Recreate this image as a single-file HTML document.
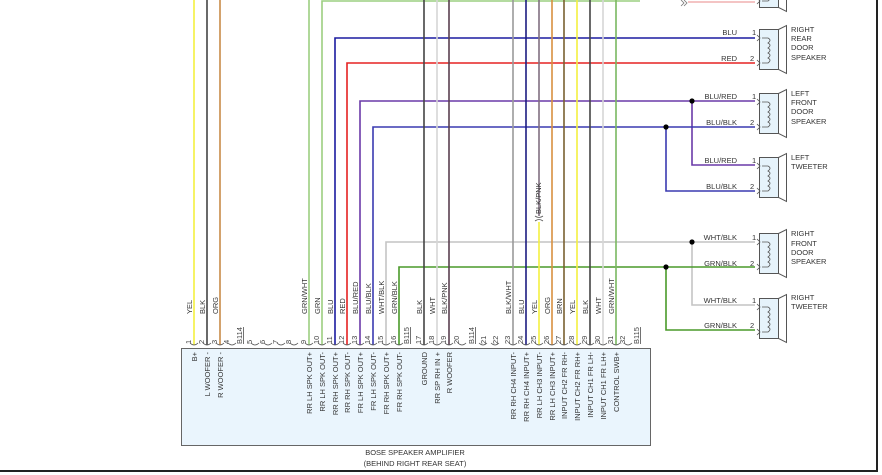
<!DOCTYPE html>
<html><head><meta charset="utf-8"><style>
html,body{margin:0;padding:0;background:#fff;}
svg{display:block;font-family:"Liberation Sans",sans-serif;}
</style></head><body>
<svg width="882" height="475" viewBox="0 0 882 475" xmlns="http://www.w3.org/2000/svg">
<rect width="882" height="475" fill="#fff"/>
<line x1="877" y1="0" x2="877" y2="471" stroke="#222" stroke-width="2"/>
<line x1="0" y1="471" x2="878" y2="471" stroke="#222" stroke-width="2"/>

<g fill="none" stroke-width="1.6">
<polyline points="322,345 322,1 640,1" stroke="#9ccf80"/>
<polyline points="335,345 335,38 755,38" stroke="#1c1ca0"/>
<polyline points="347,345 347,63 755,63" stroke="#e52222"/>
<polyline points="360,345 360,101 755,101" stroke="#6a3aa8"/>
<polyline points="692,101 692,165 755,165" stroke="#6a3aa8"/>
<polyline points="373,345 373,127 755,127" stroke="#3a3ab0"/>
<polyline points="666,127 666,191 755,191" stroke="#3a3ab0"/>
<polyline points="386,345 386,242 755,242" stroke="#c4c4c4"/>
<polyline points="692,242 692,305 755,305" stroke="#c4c4c4"/>
<polyline points="399,345 399,267 755,267" stroke="#4a9a2a"/>
<polyline points="666,267 666,330 755,330" stroke="#4a9a2a"/>
<polyline points="688,2 755,2" stroke="#f0b0b0"/>
</g>
<path d="M681,0 l3,3 l-3,3 M684,0 l3,3 l-3,3" fill="none" stroke="#777" stroke-width="0.8"/>
<g fill="#000">
<circle cx="692" cy="101" r="2.6"/><circle cx="666" cy="127" r="2.6"/>
<circle cx="692" cy="242" r="2.6"/><circle cx="666" cy="267" r="2.6"/>
</g>

<g fill="none" stroke-width="1.6">
<line x1="194" y1="0" x2="194" y2="345" stroke="#f4f040"/>
<line x1="207" y1="0" x2="207" y2="345" stroke="#444"/>
<line x1="220" y1="0" x2="220" y2="345" stroke="#c88a48"/>
<line x1="309" y1="0" x2="309" y2="345" stroke="#9ccf80"/>
<line x1="424" y1="0" x2="424" y2="345" stroke="#444"/>
<line x1="437" y1="0" x2="437" y2="345" stroke="#d6d6d6"/>
<line x1="449" y1="0" x2="449" y2="345" stroke="#5a4050"/>
<line x1="513" y1="0" x2="513" y2="345" stroke="#999"/>
<line x1="526" y1="0" x2="526" y2="345" stroke="#1c1c80"/>
<line x1="539" y1="0" x2="539" y2="216" stroke="#807080"/>
<line x1="539" y1="222" x2="539" y2="345" stroke="#f4f040"/>
<line x1="552" y1="0" x2="552" y2="345" stroke="#d89040"/>
<line x1="564" y1="0" x2="564" y2="345" stroke="#7a6030"/>
<line x1="577" y1="0" x2="577" y2="345" stroke="#f4f040"/>
<line x1="590" y1="0" x2="590" y2="345" stroke="#444"/>
<line x1="603" y1="0" x2="603" y2="345" stroke="#d6d6d6"/>
<line x1="616" y1="0" x2="616" y2="345" stroke="#7ab860"/>
</g>
<path d="M535,216 q4,3 8,0 M535,221 q4,-3 8,0" fill="none" stroke="#555" stroke-width="0.8"/>
<text transform="translate(541,214) rotate(-90)" font-size="7.5" fill="#333">BLK/PNK</text>

<rect x="181.5" y="348.5" width="469" height="97" fill="#eaf5fd" stroke="#666" stroke-width="1"/>
<text x="415" y="455" font-size="7.5" fill="#333" text-anchor="middle">BOSE SPEAKER AMPLIFIER</text>
<text x="415" y="466" font-size="7.5" fill="#333" text-anchor="middle">(BEHIND RIGHT REAR SEAT)</text>

<g fill="none" stroke="#555" stroke-width="0.8">
<path d="M190,343 q4,4 8,0 M203,343 q4,4 8,0 M216,343 q4,4 8,0 M228,343 q4,4 8,0 M251,343 q4,4 8,0 M264,343 q4,4 8,0 M277,343 q4,4 8,0 M290,343 q4,4 8,0 M305,343 q4,4 8,0 M318,343 q4,4 8,0 M331,343 q4,4 8,0 M343,343 q4,4 8,0 M356,343 q4,4 8,0 M369,343 q4,4 8,0 M382,343 q4,4 8,0 M395,343 q4,4 8,0 M420,343 q4,4 8,0 M433,343 q4,4 8,0 M445,343 q4,4 8,0 M458,343 q4,4 8,0 M479,343 q4,4 8,0 M491,343 q4,4 8,0 M509,343 q4,4 8,0 M522,343 q4,4 8,0 M535,343 q4,4 8,0 M548,343 q4,4 8,0 M560,343 q4,4 8,0 M573,343 q4,4 8,0 M586,343 q4,4 8,0 M599,343 q4,4 8,0 M612,343 q4,4 8,0 M624,343 q4,4 8,0"/>
</g>

<g font-size="7.5" fill="#333">
<text transform="translate(192,314) rotate(-90)">YEL</text>
<text transform="translate(205,314) rotate(-90)">BLK</text>
<text transform="translate(218,314) rotate(-90)">ORG</text>
<text transform="translate(307,314) rotate(-90)">GRN/WHT</text>
<text transform="translate(320,314) rotate(-90)">GRN</text>
<text transform="translate(333,314) rotate(-90)">BLU</text>
<text transform="translate(345,314) rotate(-90)">RED</text>
<text transform="translate(358,314) rotate(-90)">BLU/RED</text>
<text transform="translate(371,314) rotate(-90)">BLU/BLK</text>
<text transform="translate(384,314) rotate(-90)">WHT/BLK</text>
<text transform="translate(397,314) rotate(-90)">GRN/BLK</text>
<text transform="translate(422,314) rotate(-90)">BLK</text>
<text transform="translate(435,314) rotate(-90)">WHT</text>
<text transform="translate(447,314) rotate(-90)">BLK/PNK</text>
<text transform="translate(511,314) rotate(-90)">BLK/WHT</text>
<text transform="translate(524,314) rotate(-90)">BLU</text>
<text transform="translate(537,314) rotate(-90)">YEL</text>
<text transform="translate(550,314) rotate(-90)">ORG</text>
<text transform="translate(562,314) rotate(-90)">BRN</text>
<text transform="translate(575,314) rotate(-90)">YEL</text>
<text transform="translate(588,314) rotate(-90)">BLK</text>
<text transform="translate(601,314) rotate(-90)">WHT</text>
<text transform="translate(614,314) rotate(-90)">GRN/WHT</text>
</g>

<g font-size="7.5" fill="#444">
<text transform="translate(191,344) rotate(-90)">1</text>
<text transform="translate(204,344) rotate(-90)">2</text>
<text transform="translate(217,344) rotate(-90)">3</text>
<text transform="translate(229,344) rotate(-90)">4</text>
<text transform="translate(242,344) rotate(-90)" text-decoration="underline">B114</text>
<text transform="translate(252,344) rotate(-90)">5</text>
<text transform="translate(265,344) rotate(-90)">6</text>
<text transform="translate(278,344) rotate(-90)">7</text>
<text transform="translate(291,344) rotate(-90)">8</text>
<text transform="translate(306,344) rotate(-90)">9</text>
<text transform="translate(319,344) rotate(-90)">10</text>
<text transform="translate(332,344) rotate(-90)">11</text>
<text transform="translate(344,344) rotate(-90)">12</text>
<text transform="translate(357,344) rotate(-90)">13</text>
<text transform="translate(370,344) rotate(-90)">14</text>
<text transform="translate(383,344) rotate(-90)">15</text>
<text transform="translate(396,344) rotate(-90)">16</text>
<text transform="translate(409,344) rotate(-90)" text-decoration="underline">B115</text>
<text transform="translate(421,344) rotate(-90)">17</text>
<text transform="translate(434,344) rotate(-90)">18</text>
<text transform="translate(446,344) rotate(-90)">19</text>
<text transform="translate(459,344) rotate(-90)">20</text>
<text transform="translate(474,344) rotate(-90)" text-decoration="underline">B114</text>
<text transform="translate(486,344) rotate(-90)">21</text>
<text transform="translate(498,344) rotate(-90)">22</text>
<text transform="translate(510,344) rotate(-90)">23</text>
<text transform="translate(523,344) rotate(-90)">24</text>
<text transform="translate(536,344) rotate(-90)">25</text>
<text transform="translate(549,344) rotate(-90)">26</text>
<text transform="translate(561,344) rotate(-90)">27</text>
<text transform="translate(574,344) rotate(-90)">28</text>
<text transform="translate(587,344) rotate(-90)">29</text>
<text transform="translate(600,344) rotate(-90)">30</text>
<text transform="translate(613,344) rotate(-90)">31</text>
<text transform="translate(625,344) rotate(-90)">32</text>
<text transform="translate(639,344) rotate(-90)" text-decoration="underline">B115</text>
</g>

<g font-size="7.5" fill="#333" text-anchor="end">
<text transform="translate(197,352) rotate(-90)">B+</text>
<text transform="translate(210,352) rotate(-90)">L WOOFER -</text>
<text transform="translate(223,352) rotate(-90)">R WOOFER -</text>
<text transform="translate(312,352) rotate(-90)">RR LH SPK OUT+</text>
<text transform="translate(325,352) rotate(-90)">RR LH SPK OUT-</text>
<text transform="translate(338,352) rotate(-90)">RR RH SPK OUT+</text>
<text transform="translate(350,352) rotate(-90)">RR RH SPK OUT-</text>
<text transform="translate(363,352) rotate(-90)">FR LH SPK OUT+</text>
<text transform="translate(376,352) rotate(-90)">FR LH SPK OUT-</text>
<text transform="translate(389,352) rotate(-90)">FR RH SPK OUT+</text>
<text transform="translate(402,352) rotate(-90)">FR RH SPK OUT-</text>
<text transform="translate(427,352) rotate(-90)">GROUND</text>
<text transform="translate(440,352) rotate(-90)">RR SP RH IN +</text>
<text transform="translate(452,352) rotate(-90)">R WOOFER</text>
<text transform="translate(516,352) rotate(-90)">RR RH CH4 INPUT-</text>
<text transform="translate(529,352) rotate(-90)">RR RH CH4 INPUT+</text>
<text transform="translate(542,352) rotate(-90)">RR LH CH3 INPUT-</text>
<text transform="translate(555,352) rotate(-90)">RR LH CH3 INPUT+</text>
<text transform="translate(567,352) rotate(-90)">INPUT CH2 FR RH-</text>
<text transform="translate(580,352) rotate(-90)">INPUT CH2 FR RH+</text>
<text transform="translate(593,352) rotate(-90)">INPUT CH1 FR LH-</text>
<text transform="translate(606,352) rotate(-90)">INPUT CH1 FR LH+</text>
<text transform="translate(619,352) rotate(-90)">CONTROL SWB+</text>
</g>

<defs>
<g id="spk">
<rect x="759.5" y="0.5" width="19" height="40" fill="#e6f3fb" stroke="#555" stroke-width="1"/>
<polygon points="778.5,0.5 786.5,-3.5 786.5,44.5 778.5,40.5" fill="#fff" stroke="#555" stroke-width="1"/>
<path d="M757,6 l3,3 l-3,3 M757,31 l3,3 l-3,3" fill="none" stroke="#555" stroke-width="0.8"/>
<path d="M762,9 h6 q4,2 0,5 q4,2 0,5 q4,2 0,5 q4,2 0,5 q4,2 0,5 h-6" fill="none" stroke="#555" stroke-width="0.8"/>
</g>
</defs>
<use href="#spk" transform="translate(0,29)"/>
<use href="#spk" transform="translate(0,93)"/>
<use href="#spk" transform="translate(0,157)"/>
<use href="#spk" transform="translate(0,233)"/>
<use href="#spk" transform="translate(0,298)"/>
<use href="#spk" transform="translate(0,-33)"/>

<g font-size="7.5" fill="#333">
<text x="737" y="35" text-anchor="end">BLU</text><text x="752" y="35">1</text>
<text x="737" y="61" text-anchor="end">RED</text><text x="750" y="61">2</text>
<text x="737" y="99" text-anchor="end">BLU/RED</text><text x="752" y="99">1</text>
<text x="737" y="125" text-anchor="end">BLU/BLK</text><text x="750" y="125">2</text>
<text x="737" y="163" text-anchor="end">BLU/RED</text><text x="752" y="163">1</text>
<text x="737" y="189" text-anchor="end">BLU/BLK</text><text x="750" y="189">2</text>
<text x="737" y="240" text-anchor="end">WHT/BLK</text><text x="752" y="240">1</text>
<text x="737" y="266" text-anchor="end">GRN/BLK</text><text x="750" y="266">2</text>
<text x="737" y="303" text-anchor="end">WHT/BLK</text><text x="752" y="303">1</text>
<text x="737" y="328" text-anchor="end">GRN/BLK</text><text x="750" y="328">2</text>
</g>
<g font-size="7.5" fill="#333">
<text x="791" y="32">RIGHT</text><text x="791" y="41">REAR</text><text x="791" y="50">DOOR</text><text x="791" y="60">SPEAKER</text>
<text x="791" y="96">LEFT</text><text x="791" y="105">FRONT</text><text x="791" y="114">DOOR</text><text x="791" y="124">SPEAKER</text>
<text x="791" y="160">LEFT</text><text x="791" y="169">TWEETER</text>
<text x="791" y="236">RIGHT</text><text x="791" y="246">FRONT</text><text x="791" y="255">DOOR</text><text x="791" y="264">SPEAKER</text>
<text x="791" y="300">RIGHT</text><text x="791" y="309">TWEETER</text>
</g>
</svg>
</body></html>
